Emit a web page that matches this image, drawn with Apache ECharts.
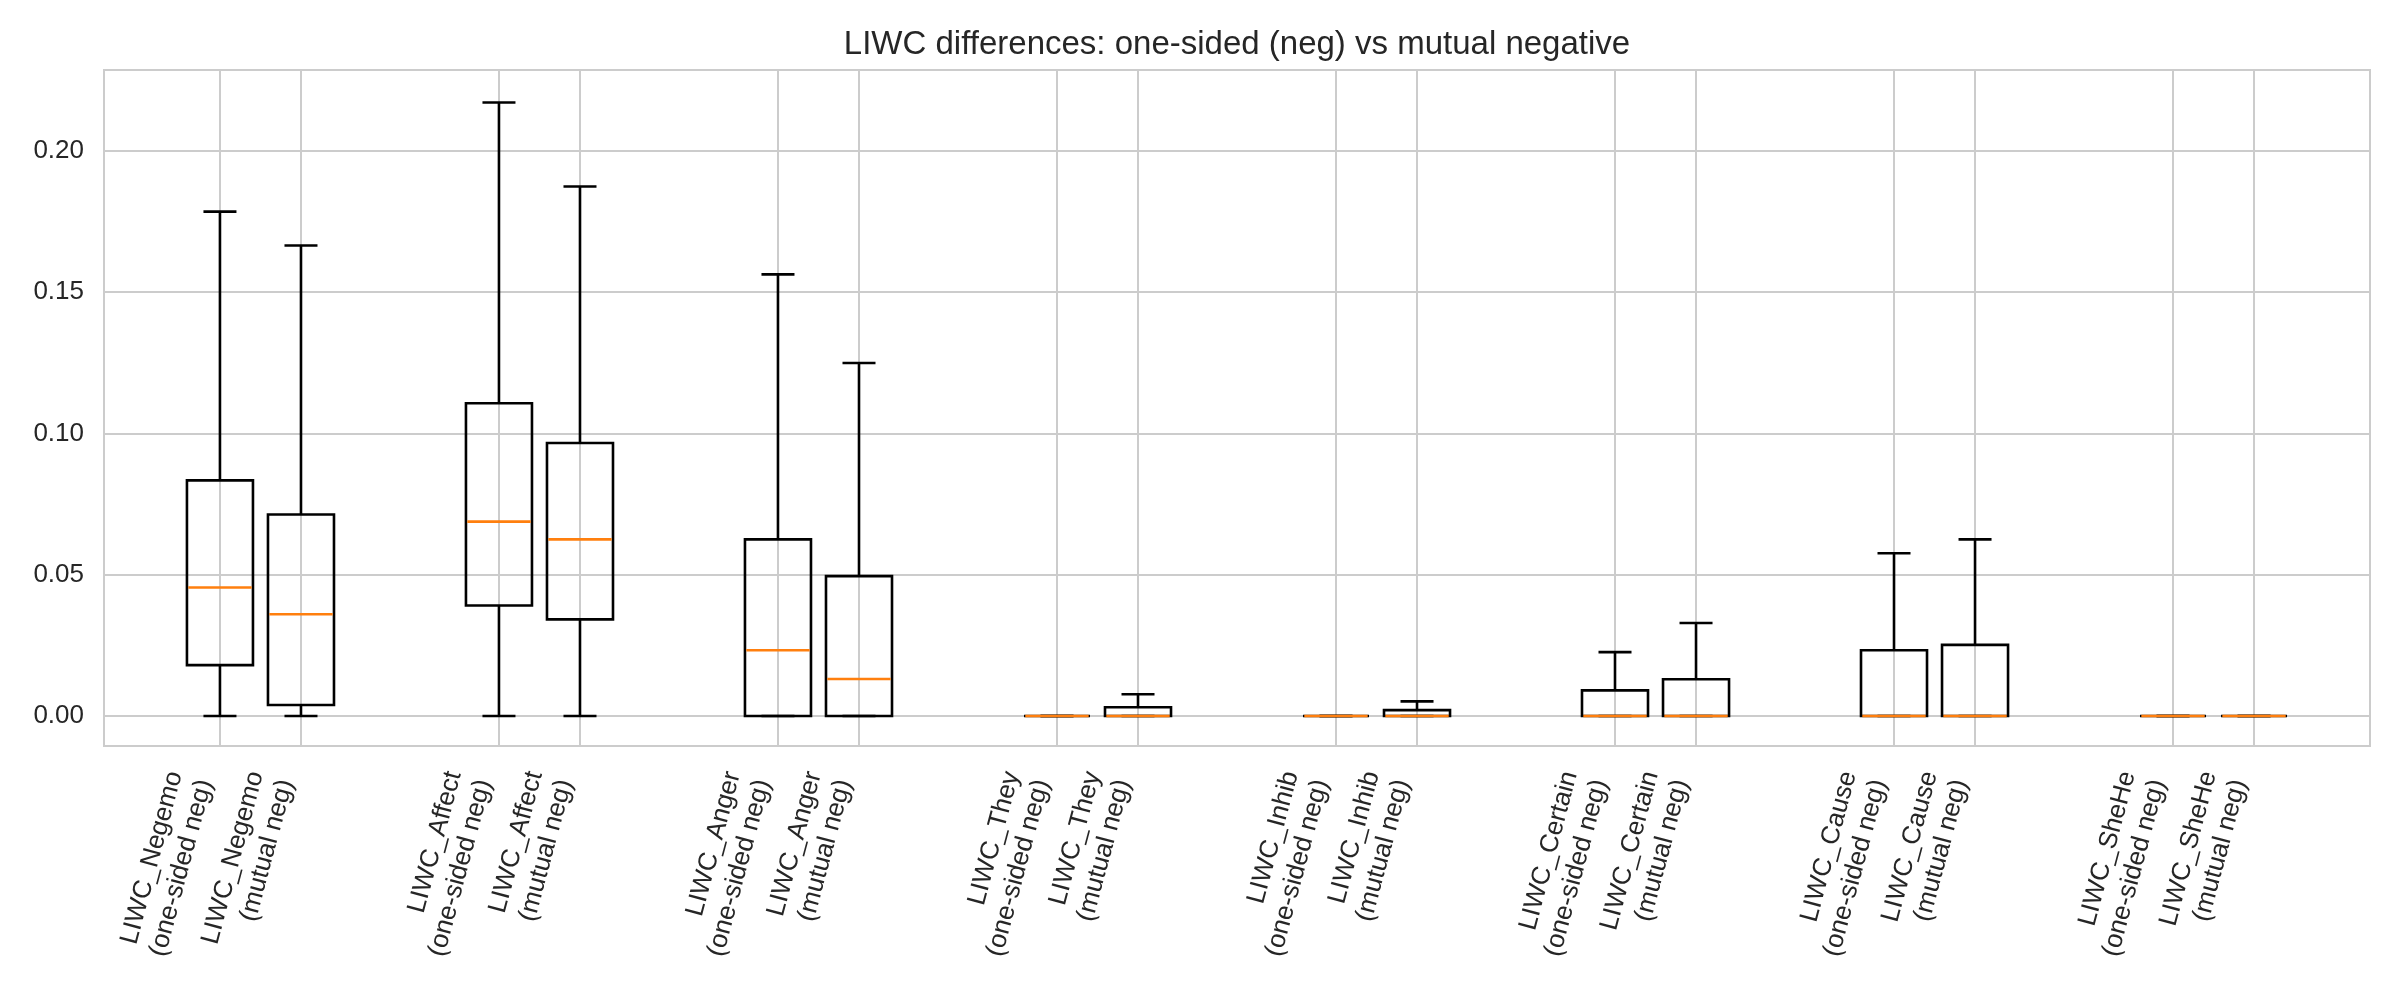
<!DOCTYPE html>
<html>
<head>
<meta charset="utf-8">
<title>LIWC differences</title>
<script src="https://cdn.jsdelivr.net/npm/echarts@6.0.0/dist/echarts.min.js"></script>
<style>
  html, body { margin: 0; padding: 0; background: #fff; }
  #chart { width: 2400px; height: 1000px; }
</style>
</head>
<body>
<div id="chart"></div>
<script>
// LIWC features, in plot order
var categories = ["LIWC_Negemo", "LIWC_Affect", "LIWC_Anger", "LIWC_They",
                  "LIWC_Inhib", "LIWC_Certain", "LIWC_Cause", "LIWC_SheHe"];
var groups = ["one-sided neg", "mutual neg"];

// box stats: [lower whisker, Q1, median, Q3, upper whisker]
var oneSided = [
  [0, 0.0180, 0.0455, 0.0834, 0.1785],
  [0, 0.0391, 0.0688, 0.1107, 0.2171],
  [0, 0,      0.0233, 0.0625, 0.1563],
  [0, 0,      0,      0,      0],
  [0, 0,      0,      0,      0],
  [0, 0,      0,      0.0091, 0.0226],
  [0, 0,      0,      0.0233, 0.0576],
  [0, 0,      0,      0,      0]
];
var mutual = [
  [0, 0.0039, 0.0360, 0.0713, 0.1665],
  [0, 0.0342, 0.0625, 0.0966, 0.1874],
  [0, 0,      0.0131, 0.0495, 0.1249],
  [0, 0,      0,      0.0031, 0.0077],
  [0, 0,      0,      0.0021, 0.0052],
  [0, 0,      0,      0.0130, 0.0329],
  [0, 0,      0,      0.0252, 0.0625],
  [0, 0,      0,      0,      0]
];
var yTicks = [0, 0.05, 0.10, 0.15, 0.20];

// layout (x in "group" units)
var PAIR_OFF = 0.1452;
var BOX_W = 0.2366;
var LW = 2.6;
var FONT = "Liberation Sans, Arial, sans-serif";

var positions = [], labels = [], boxData = [];
categories.forEach(function (c, i) {
  [oneSided, mutual].forEach(function (stats, g) {
    var x = i + (g === 0 ? -PAIR_OFF : PAIR_OFF);
    positions.push(x);
    labels.push(c + "\n(" + groups[g] + ")");
    boxData.push([x].concat(stats[i]));
  });
});

function labelFor(v) {
  var best = 0;
  for (var k = 1; k < positions.length; k++) {
    if (Math.abs(positions[k] - v) < Math.abs(positions[best] - v)) best = k;
  }
  return labels[best];
}

var myChart = echarts.init(document.getElementById("chart"));

var option = {
  animation: false,
  backgroundColor: "#ffffff",
  title: {
    text: "LIWC differences: one-sided (neg) vs mutual negative",
    left: 1237,
    textAlign: "center",
    top: 28,
    padding: 0,
    textStyle: { fontFamily: FONT, fontSize: 33, fontWeight: "normal", color: "#262626" }
  },
  grid: {
    left: 104, right: 30, top: 70, bottom: 254,
    show: true, borderColor: "#cccccc", borderWidth: 2,
    outerBoundsMode: "none"
  },
  xAxis: {
    type: "value",
    min: -0.5608,
    max: 7.5608,
    axisLine: { show: false },
    axisTick: { show: false, customValues: positions },
    splitLine: { show: true, lineStyle: { color: "#cccccc", width: 2 } },
    axisLabel: {
      customValues: positions,
      formatter: labelFor,
      rotate: 75,
      align: "right",
      verticalAlign: "bottom",
      margin: 38,
      lineHeight: 31,
      fontFamily: FONT,
      fontSize: 26,
      color: "#262626"
    }
  },
  yAxis: {
    type: "value",
    min: -0.0106,
    max: 0.2286,
    axisLine: { show: false },
    axisTick: { show: false, customValues: yTicks },
    splitLine: { show: true, lineStyle: { color: "#cccccc", width: 2 } },
    axisLabel: {
      customValues: yTicks,
      formatter: function (v) { return v.toFixed(2); },
      margin: 20,
      fontFamily: FONT,
      fontSize: 26,
      color: "#262626"
    }
  },
  series: [{
    type: "custom",
    silent: true,
    data: boxData,
    renderItem: function (params, api) {
      var x = api.value(0);
      var lo = api.coord([x, api.value(1)]);
      var q1 = api.coord([x, api.value(2)]);
      var md = api.coord([x, api.value(3)]);
      var q3 = api.coord([x, api.value(4)]);
      var hi = api.coord([x, api.value(5)]);
      var cx = lo[0];
      var half = api.size([BOX_W, 0])[0] / 2;
      var cap = half / 2;
      var black = { stroke: "#000000", lineWidth: LW, fill: null };
      return {
        type: "group",
        children: [
          { type: "rect", shape: { x: cx - half, y: q3[1], width: 2 * half, height: q1[1] - q3[1] },
            style: { stroke: "#000000", lineWidth: LW, fill: "none" } },
          { type: "line", shape: { x1: cx, y1: q1[1], x2: cx, y2: lo[1] }, style: black },
          { type: "line", shape: { x1: cx, y1: q3[1], x2: cx, y2: hi[1] }, style: black },
          { type: "line", shape: { x1: cx - cap, y1: lo[1], x2: cx + cap, y2: lo[1] }, style: black },
          { type: "line", shape: { x1: cx - cap, y1: hi[1], x2: cx + cap, y2: hi[1] }, style: black },
          { type: "line", shape: { x1: cx - half + LW / 2, y1: md[1], x2: cx + half - LW / 2, y2: md[1] },
            style: { stroke: "#ff7f0e", lineWidth: LW } }
        ]
      };
    }
  }]
};

myChart.setOption(option);
window.addEventListener("resize", function () { myChart.resize(); });
</script>
</body>
</html>
